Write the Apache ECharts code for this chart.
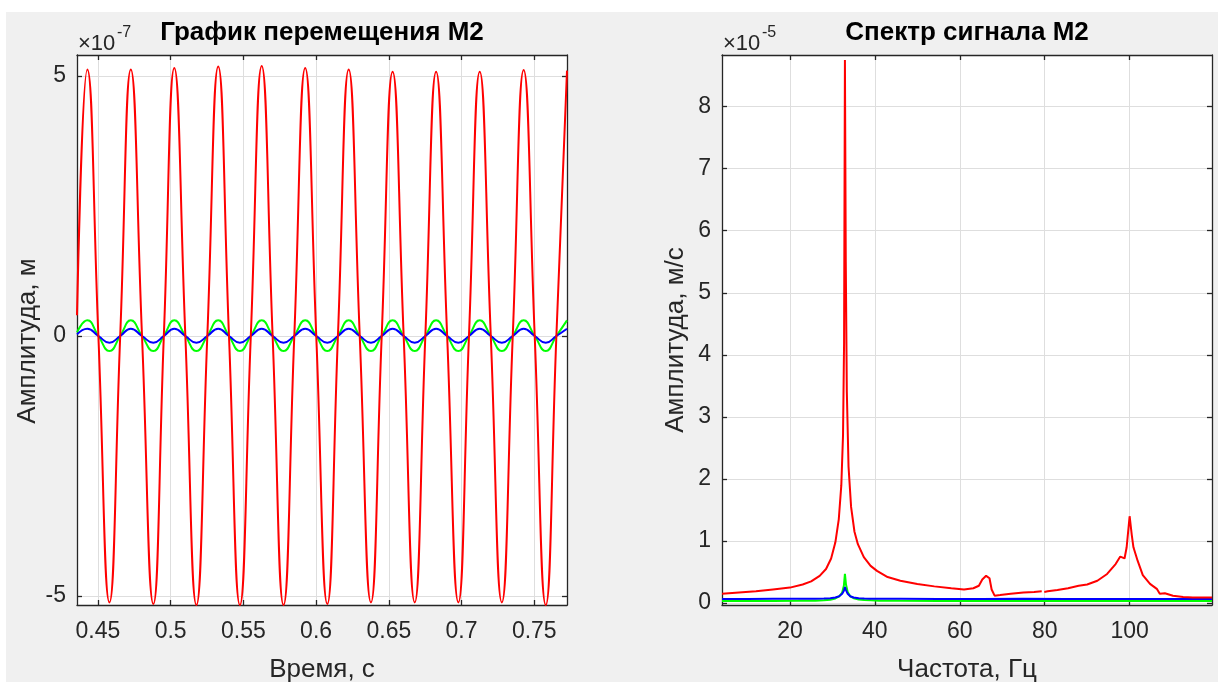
<!DOCTYPE html>
<html>
<head>
<meta charset="utf-8">
<script src="https://cdn.jsdelivr.net/npm/echarts@6/dist/echarts.min.js"></script>
<style>
html,body{margin:0;padding:0;background:#fff;}
#chart{width:1218px;height:682px;}
</style>
</head>
<body>
<div id="chart"></div>
<script>
// ---------- Data (time domain, amplitude in units of 1e-7 m) ----------
const timeS = [0.4356,
  0.4427,0.4503,0.4579,0.4653, 0.4726,0.4803,0.4881,0.4953, 0.5025,0.5101,0.5177,0.5252,
  0.5327,0.5401,0.5476,0.5551, 0.5626,0.5701,0.5776,0.5850, 0.5925,0.6001,0.6077,0.6150,
  0.6224,0.6300,0.6377,0.6451, 0.6526,0.6602,0.6678,0.6751, 0.6825,0.6901,0.6978,0.7051,
  0.7125,0.7201,0.7277,0.7352, 0.7427,0.7503,0.7579,0.7652, 0.7725];
const redDisp = [0.4,
  5.12,0,-5.12,0, 5.12,0,-5.15,0, 5.15,0,-5.17,0,
  5.18,0,-5.17,0, 5.19,0,-5.17,0, 5.15,0,-5.15,0,
  5.12,0,-5.12,0, 5.08,0,-5.12,0, 5.08,0,-5.12,0,
  5.08,0,-5.12,0, 5.11,0,-5.17,0, 5.10];
const greenDisp = [0.07,
  0.30,0,-0.29,0, 0.30,0,-0.29,0, 0.30,0,-0.29,0,
  0.30,0,-0.29,0, 0.30,0,-0.29,0, 0.30,0,-0.29,0,
  0.30,0,-0.29,0, 0.30,0,-0.29,0, 0.30,0,-0.29,0,
  0.30,0,-0.29,0, 0.30,0,-0.29,0, 0.30];
const blueDisp = [0.03,
  0.14,0,-0.13,0, 0.14,0,-0.13,0, 0.14,0,-0.13,0,
  0.14,0,-0.13,0, 0.14,0,-0.13,0, 0.14,0,-0.13,0,
  0.14,0,-0.13,0, 0.14,0,-0.13,0, 0.14,0,-0.13,0,
  0.14,0,-0.13,0, 0.14,0,-0.13,0, 0.14];
const timeTicks = [0.45,0.5,0.55,0.6,0.65,0.7,0.75];
const dispTicks = [-5,0,5];

// ---------- Data (spectrum, amplitude in units of 1e-5 m/s) ----------
const specFreqRed = [4,8,12,16,20,23,25,27,28.5,29.7,30.7,31.5,32.1,32.5,32.75,32.95,33.15,33.4,33.8,34.4,35.2,36.0,37.4,39,40.5,43,46,50,54,58,61,63.2,64.5,65.3,66.2,67.0,67.5,68.2,69.5,72,75,77.5,79.3,79.6,79.9,80.7,83,85.5,88,90,92.4,94.7,96.7,97.8,98.8,99.3,100,100.5,100.9,101.9,103.1,104.8,106.4,107.1,108.3,110.2,112.6,114.9,117,119.4];
const specRed = [0.15,0.17,0.19,0.22,0.25,0.30,0.35,0.44,0.55,0.72,0.98,1.35,1.9,2.7,4.2,8.75,5.5,3.4,2.2,1.55,1.15,0.95,0.74,0.6,0.52,0.42,0.36,0.31,0.27,0.24,0.22,0.24,0.28,0.38,0.44,0.40,0.22,0.12,0.13,0.15,0.17,0.18,0.19,null,0.18,0.19,0.21,0.24,0.28,0.30,0.36,0.47,0.63,0.75,0.72,0.9,1.40,1.1,0.9,0.68,0.45,0.31,0.23,0.15,0.16,0.12,0.10,0.09,0.09,0.09];
const specFreqLow = [4,10,16,22,26,28,29.5,30.7,31.6,32.3,32.7,32.95,33.2,33.6,34.2,35.0,36.2,37.5,39,41,46,55,65,75,85,95,105,115,119.4];
const specGreen = [0.035,0.036,0.035,0.037,0.04,0.045,0.055,0.075,0.11,0.17,0.28,0.47,0.30,0.18,0.11,0.08,0.06,0.05,0.045,0.04,0.037,0.035,0.036,0.035,0.035,0.036,0.035,0.035,0.035];
const specBlue = [0.068,0.068,0.07,0.07,0.072,0.075,0.08,0.09,0.11,0.15,0.20,0.26,0.21,0.15,0.11,0.09,0.08,0.075,0.072,0.07,0.07,0.068,0.068,0.069,0.068,0.068,0.068,0.068,0.068];
const freqTicks = [20,40,60,80,100];
const specTicks = [0,1,2,3,4,5,6,7,8];

// ---------- Helpers ----------
const pair = (xs, ys) => xs.map((x, i) => [x, ys[i] === null ? '-' : ys[i]]);
const FONT = '"Liberation Sans", Arial, Helvetica, sans-serif';
const INK = '#262626';
const GRIDC = '#dedede';
const TICK_FS = 23;
const NAME_FS = 26;

function mainX(gi, min, max, ticks, name) {
  return {
    type: 'value', gridIndex: gi, position: 'bottom', min: min, max: max,
    name: name, nameLocation: 'middle', nameGap: 52,
    nameTextStyle: { fontFamily: FONT, fontSize: NAME_FS, color: INK },
    axisLine: { show: true, onZero: false, lineStyle: { color: INK, width: 1.3 } },
    axisTick: { show: true, inside: true, length: 5, customValues: ticks, lineStyle: { color: INK, width: 1.3 } },
    axisLabel: { show: true, customValues: ticks, margin: 15, fontFamily: FONT, fontSize: TICK_FS, color: INK, hideOverlap: false },
    splitLine: { show: true, lineStyle: { color: GRIDC, width: 1 } }
  };
}
function sideX(gi, min, max, ticks) {
  return {
    type: 'value', gridIndex: gi, position: 'top', min: min, max: max,
    axisLine: { show: true, onZero: false, lineStyle: { color: INK, width: 1.3 } },
    axisTick: { show: true, inside: true, length: 5, customValues: ticks, lineStyle: { color: INK, width: 1.3 } },
    axisLabel: { show: false }, splitLine: { show: false }
  };
}
function mainY(gi, min, max, ticks) {
  return {
    type: 'value', gridIndex: gi, position: 'left', min: min, max: max,
    axisLine: { show: true, onZero: false, lineStyle: { color: INK, width: 1.3 } },
    axisTick: { show: true, inside: true, length: 5, customValues: ticks, lineStyle: { color: INK, width: 1.3 } },
    axisLabel: { show: true, customValues: ticks, margin: 11, fontFamily: FONT, fontSize: TICK_FS, color: INK },
    splitLine: { show: true, lineStyle: { color: GRIDC, width: 1 } }
  };
}
function sideY(gi, min, max, ticks) {
  return {
    type: 'value', gridIndex: gi, position: 'right', min: min, max: max,
    axisLine: { show: true, onZero: false, lineStyle: { color: INK, width: 1.3 } },
    axisTick: { show: true, inside: true, length: 5, customValues: ticks, lineStyle: { color: INK, width: 1.3 } },
    axisLabel: { show: false }, splitLine: { show: false }
  };
}
function line(xi, yi, data, color, smooth, width) {
  return {
    type: 'line', xAxisIndex: xi, yAxisIndex: yi, data: data, smooth: smooth,
    showSymbol: false, symbol: 'none', connectNulls: false,
    lineStyle: { color: color, width: width }, itemStyle: { color: color },
    emphasis: { disabled: true }, silent: true
  };
}

const chart = echarts.init(document.getElementById('chart'), null, { renderer: 'canvas' });
const option = {
  animation: false,
  backgroundColor: '#f0f0f0',
  graphic: [
    { type: 'rect', silent: true, z: -100, shape: { x: 0, y: 0, width: 1218, height: 12 }, style: { fill: '#ffffff' } },
    { type: 'rect', silent: true, z: -100, shape: { x: 0, y: 0, width: 6, height: 682 }, style: { fill: '#ffffff' } },
    { type: 'text', x: 322, y: 33, style: { text: 'График перемещения М2', font: 'bold 26px ' + FONT, fill: '#000', align: 'center', verticalAlign: 'middle' } },
    { type: 'text', x: 967, y: 33, style: { text: 'Спектр сигнала М2', font: 'bold 26px ' + FONT, fill: '#000', align: 'center', verticalAlign: 'middle' } },
    { type: 'text', x: 78, y: 44, style: { text: '×10', font: '22px ' + FONT, fill: INK, align: 'left', verticalAlign: 'middle' } },
    { type: 'text', x: 117, y: 33, style: { text: '-7', font: '16px ' + FONT, fill: INK, align: 'left', verticalAlign: 'middle' } },
    { type: 'text', x: 723, y: 44, style: { text: '×10', font: '22px ' + FONT, fill: INK, align: 'left', verticalAlign: 'middle' } },
    { type: 'text', x: 762, y: 33, style: { text: '-5', font: '16px ' + FONT, fill: INK, align: 'left', verticalAlign: 'middle' } },
    { type: 'text', x: 28, y: 341, rotation: Math.PI / 2, style: { text: 'Амплитуда, м', font: NAME_FS + 'px ' + FONT, fill: INK, align: 'center', verticalAlign: 'middle' } },
    { type: 'text', x: 676, y: 340, rotation: Math.PI / 2, style: { text: 'Амплитуда, м/с', font: NAME_FS + 'px ' + FONT, fill: INK, align: 'center', verticalAlign: 'middle' } }
  ],
  grid: [
    { left: 77, top: 55, width: 490, height: 550, show: true, backgroundColor: '#ffffff', borderWidth: 0, containLabel: false, outerBoundsMode: 'none' },
    { left: 722, top: 55, width: 490, height: 550, show: true, backgroundColor: '#ffffff', borderWidth: 0, containLabel: false, outerBoundsMode: 'none' }
  ],
  xAxis: [
    mainX(0, 0.4356, 0.7725, timeTicks, 'Время, с'),
    sideX(0, 0.4356, 0.7725, timeTicks),
    mainX(1, 4, 119.4, freqTicks, 'Частота, Гц'),
    sideX(1, 4, 119.4, freqTicks)
  ],
  yAxis: [
    mainY(0, -5.17, 5.40, dispTicks),
    sideY(0, -5.17, 5.40, dispTicks),
    mainY(1, -0.03, 8.83, specTicks),
    sideY(1, -0.03, 8.83, specTicks)
  ],
  series: [
    line(0, 0, pair(timeS, greenDisp), '#00ff00', 0.5, 2),
    line(0, 0, pair(timeS, blueDisp), '#0000ff', 0.5, 2),
    line(0, 0, pair(timeS, redDisp), '#ff0000', 0.5, 2),
    line(2, 2, pair(specFreqLow, specGreen), '#00ff00', false, 2),
    line(2, 2, pair(specFreqLow, specBlue), '#0000ff', false, 2),
    line(2, 2, pair(specFreqRed, specRed), '#ff0000', false, 2)
  ]
};
chart.setOption(option);
</script>
</body>
</html>
